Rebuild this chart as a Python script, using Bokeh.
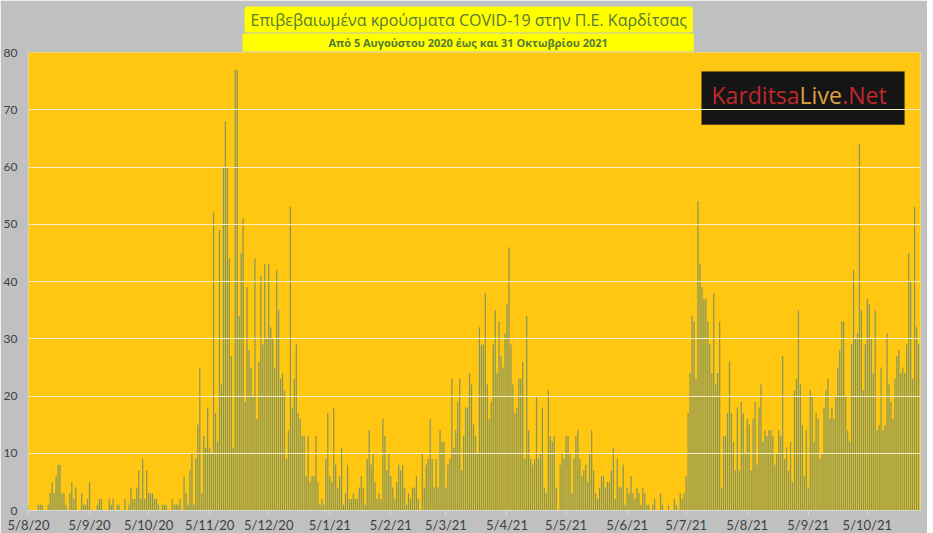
import numpy as np
import pandas as pd
from bokeh.plotting import figure
from bokeh.models import ColumnDataSource, FixedTicker, Label, BoxAnnotation, Range1d, Title
from bokeh.embed import file_html
from bokeh.resources import INLINE

# ---------------- data ----------------
start_date = "2020-08-05"

# daily confirmed cases
cases_aug_nov_2020 = [
    1, 0, 0, 0, 0, 1, 1, 1, 0, 0,
    1, 3, 5, 3, 6, 8, 8, 3, 3, 1,
    0, 3, 5, 2, 4, 0, 0, 3, 1, 1,
    2, 5, 0, 0, 0, 1, 2, 2, 0, 0,
    0, 2, 1, 2, 0, 1, 1, 0, 0, 2,
    0, 1, 4, 2, 2, 4, 7, 2, 9, 2,
    7, 3, 3, 3, 2, 2, 1, 0, 1, 1,
    1, 0, 0, 2, 1, 1, 1, 2, 0, 6,
    3, 1, 7, 10, 1, 9, 15, 25, 3, 13,
    11, 18, 11, 10, 52,
]
cases_nov_jan = [
    17, 12, 49, 22, 60, 68, 60, 44, 27, 11,
    77, 77, 34, 45, 51, 19, 39, 28, 25, 20,
    44, 16, 26, 41, 29, 43, 30, 43, 32, 30,
    25, 42, 35, 23, 24, 21, 9, 14, 53, 18,
    23, 29, 17, 16, 13, 13, 6, 13, 5, 6,
    6, 13, 5, 1, 2, 1, 9, 17, 6,
]
cases_jan_mar = [
    5, 18, 8, 4, 6, 11, 1, 3, 8, 2,
    2, 3, 2, 2, 4, 6, 4, 1, 9, 14,
    8, 10, 5, 2, 3, 2, 16, 13, 7, 10,
    6, 4, 2, 5, 8, 7, 8, 4, 1, 3,
    2, 4, 4, 6, 2, 0, 10, 4, 8, 9,
    16, 9, 4, 9, 4, 14, 12, 12, 4, 8,
    9, 23, 11, 14, 19, 23, 7, 13, 18, 18,
    24, 22, 15, 13,
]
cases_mar_jun = [
    10, 32, 29, 29, 38, 22, 16, 19, 29, 35,
    24, 33, 27, 25, 31, 36, 46, 29, 22, 17,
    18, 23, 23, 26, 9, 34, 14, 9, 8, 9,
    20, 9, 10, 18, 4, 3, 21, 13, 12, 13,
    4, 0, 8, 10, 9, 13, 13, 10, 3, 9,
    13, 14, 9, 6, 7, 8, 5, 10, 14, 7,
    3, 2, 4, 6, 6, 4, 5, 5, 7, 11,
    2, 9, 4, 4, 8, 1,
]
cases_jun_aug = [
    4, 3, 6, 3, 2, 4, 3, 1, 4, 3,
    1, 1, 0, 1, 2, 0, 0, 3, 1, 0,
    0, 1, 0, 0, 2, 1, 0, 3, 2, 3,
    6, 17, 24, 34, 33, 23, 54, 43, 39, 37,
    37, 33, 29, 24, 38, 22, 24, 33, 4, 13,
    13, 17, 26, 17, 12, 7, 18, 7, 19, 17,
    10, 16, 15, 7, 16, 19, 8, 18, 22, 12,
    14, 13, 14, 14, 13, 8,
]
cases_aug_oct_2021 = [
    10, 14, 13, 27, 9, 11, 7, 12, 5, 21,
    23, 35, 22, 15, 6, 14, 4, 21, 20, 12,
    17, 16, 9, 10, 18, 21, 23, 16, 18, 16,
    20, 25, 28, 33, 33, 20, 14, 12, 29, 42,
    30, 31, 64, 35, 21, 29, 37, 36, 30, 24,
    35, 14, 15, 25, 14, 15, 31, 22, 19, 16,
    23, 27, 28, 24, 25, 24, 29, 45, 40, 23,
    53, 32, 29,
]

x_tick_labels = ["5/8/20", "5/9/20", "5/10/20", "5/11/20", "5/12/20",
                 "5/1/21", "5/2/21", "5/3/21", "5/4/21", "5/5/21",
                 "5/6/21", "5/7/21", "5/8/21", "5/9/21", "5/10/21"]
y_ticks = [0, 10, 20, 30, 40, 50, 60, 70, 80]

title_text = "Επιβεβαιωμένα κρούσματα COVID-19 στην Π.Ε. Καρδίτσας"
subtitle_text = "Από 5 Αυγούστου 2020 έως και 31 Οκτωβρίου 2021"

# ---------------- build ----------------
cases = (cases_aug_nov_2020 + cases_nov_jan + cases_jan_mar +
         cases_mar_jun + cases_jun_aug + cases_aug_oct_2021)
dates = pd.date_range(start_date, periods=len(cases), freq="D")
day = np.asarray((dates - dates[0]).days)
src = ColumnDataSource(dict(day=day, cases=cases, date=dates.strftime("%d/%m/%Y")))

tick_pos = [int((pd.to_datetime(t, format="%d/%m/%y") - dates[0]).days) for t in x_tick_labels]

FW, FH = 892, 458
p = figure(frame_width=FW, frame_height=FH, title=None,
           output_backend="svg", toolbar_location=None,
           x_range=Range1d(0, len(cases)), y_range=Range1d(0, y_ticks[-1]),
           min_border_left=18, min_border_right=7, min_border_top=52, min_border_bottom=17)
p.background_fill_color = "#FFC711"
p.border_fill_color = "#C0C0C0"
p.outline_line_color = None

p.vbar(x="day", top="cases", width=0.62, source=src,
       fill_color="#85965E", line_color=None)

# axes
p.xaxis.ticker = FixedTicker(ticks=tick_pos)
p.xaxis.major_label_overrides = {pos: lbl for pos, lbl in zip(tick_pos, x_tick_labels)}
p.xaxis.axis_line_color = "#D9D9D9"
p.xaxis.major_tick_line_color = "#D9D9D9"
p.xaxis.major_tick_out = 5
p.xaxis.major_tick_in = 0
p.xaxis.minor_tick_line_color = None
p.xaxis.major_label_text_font = "Lato"
p.xaxis.major_label_text_font_size = "13px"
p.xaxis.major_label_text_color = "#404040"
p.xaxis.major_label_standoff = 1

p.yaxis.ticker = FixedTicker(ticks=y_ticks)
p.yaxis.axis_line_color = None
p.yaxis.major_tick_line_color = None
p.yaxis.minor_tick_line_color = None
p.yaxis.major_label_text_font = "Lato"
p.yaxis.major_label_text_font_size = "12px"
p.yaxis.major_label_text_color = "#404040"
p.yaxis.major_label_standoff = 5

p.xgrid.visible = False
p.ygrid.grid_line_color = "#F6EDC4"
p.ygrid.grid_line_width = 1
p.ygrid.level = "glyph"

# title block: two stacked titles on yellow backgrounds
# padding order (left, right, top, bottom)
sub = Title(text=subtitle_text, align="left", offset=214, standoff=2,
            text_font="Open Sans", text_font_size="11px", text_font_style="bold",
            text_color="#557A38", background_fill_color="#FFFF00",
            padding=(86, 86, 1, 2))
main = Title(text=title_text, align="left", offset=218, standoff=0,
             text_font="Open Sans", text_font_size="16px", text_font_style="normal",
             text_color="#557A38", background_fill_color="#FFFF00",
             border_line_color="#FFFF00", border_line_width=4,
             padding=(4, 4, 0, 0))
p.add_layout(sub, "above")
p.add_layout(main, "above")

# logo box
p.add_layout(BoxAnnotation(left=341.8, right=444.9, bottom=67.4, top=76.7,
                           fill_color="#151515", fill_alpha=1.0,
                           line_color="#7A5A20", line_width=1, level="underlay"))
p.add_layout(Label(x=391.6, y=72.6, text="Karditsa", text_align="right",
                   text_baseline="alphabetic", text_font="Open Sans",
                   text_font_size="23px", text_color="#C0282E"))
p.add_layout(Label(x=391.6, y=72.6, text="Live", text_align="left",
                   text_baseline="alphabetic", text_font="Open Sans",
                   text_font_size="23px", text_color="#E0A040"))
p.add_layout(Label(x=413.2, y=72.6, text=".Net", text_align="left",
                   text_baseline="alphabetic", text_font="Open Sans",
                   text_font_size="23px", text_color="#C0282E"))

html = file_html(p, INLINE, title="COVID-19 Καρδίτσα")
html = html.replace("<body>", '<body style="background-color:#C0C0C0;">', 1)
open("out.html", "w").write(html)
